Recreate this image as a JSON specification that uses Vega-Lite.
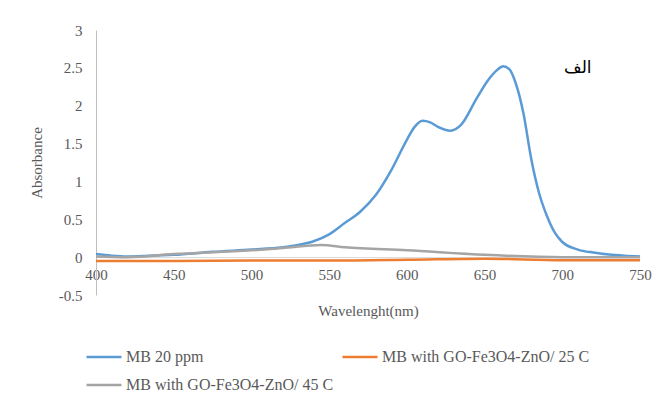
{
  "$schema": "https://vega.github.io/schema/vega-lite/v6.json",
  "width": 544,
  "height": 265,
  "autosize": {"type": "none"},
  "padding": {"left": 96, "top": 30, "right": 24, "bottom": 106},
  "background": "white",
  "config": {"view": {"stroke": null}, "font": "Liberation Serif", "axis": {"labelOverlap": false}},
  "encoding": {
    "x": {
      "field": "wavelength", "type": "quantitative",
      "scale": {"domain": [400, 750], "nice": false, "zero": false},
      "axis": {
        "values": [400, 450, 500, 550, 600, 650, 700, 750],
        "format": "d",
        "offset": -37.86, "ticks": false, "grid": false,
        "domainColor": "#D9D9D9", "domainWidth": 1,
        "labelColor": "#595959", "labelFontSize": 15, "labelPadding": 10,
        "labelFlush": false, "labelOverlap": false,
        "title": "Wavelenght(nm)", "titleFontSize": 15, "titleFontWeight": "normal",
        "titleColor": "#595959", "titlePadding": 21
      }
    },
    "y": {
      "field": "absorbance", "type": "quantitative",
      "scale": {"domain": [-0.5, 3], "nice": false},
      "axis": {
        "values": [-0.5, 0, 0.5, 1, 1.5, 2, 2.5, 3],
        "labelExpr": "replace(format(datum.value, '~g'), '\u2212', '-')",
        "ticks": false, "grid": false, "labelOverlap": false, "labelBound": false, "labelFlush": false,
        "domainColor": "#BFBFBF", "domainWidth": 1,
        "labelColor": "#595959", "labelFontSize": 15, "labelPadding": 14,
        "title": "Absorbance", "titleFontSize": 15, "titleFontWeight": "normal",
        "titleColor": "#595959", "titlePadding": 14
      }
    }
  },
  "layer": [
    {
      "data": {
        "values": [
          {"wavelength": 400, "absorbance": 0.04, "series": "MB 20 ppm"},
          {"wavelength": 410, "absorbance": 0.02, "series": "MB 20 ppm"},
          {"wavelength": 420, "absorbance": 0.01, "series": "MB 20 ppm"},
          {"wavelength": 430, "absorbance": 0.015, "series": "MB 20 ppm"},
          {"wavelength": 450, "absorbance": 0.03, "series": "MB 20 ppm"},
          {"wavelength": 475, "absorbance": 0.07, "series": "MB 20 ppm"},
          {"wavelength": 500, "absorbance": 0.1, "series": "MB 20 ppm"},
          {"wavelength": 520, "absorbance": 0.13, "series": "MB 20 ppm"},
          {"wavelength": 530, "absorbance": 0.16, "series": "MB 20 ppm"},
          {"wavelength": 540, "absorbance": 0.21, "series": "MB 20 ppm"},
          {"wavelength": 550, "absorbance": 0.3, "series": "MB 20 ppm"},
          {"wavelength": 560, "absorbance": 0.45, "series": "MB 20 ppm"},
          {"wavelength": 570, "absorbance": 0.6, "series": "MB 20 ppm"},
          {"wavelength": 580, "absorbance": 0.82, "series": "MB 20 ppm"},
          {"wavelength": 590, "absorbance": 1.15, "series": "MB 20 ppm"},
          {"wavelength": 600, "absorbance": 1.55, "series": "MB 20 ppm"},
          {"wavelength": 605, "absorbance": 1.72, "series": "MB 20 ppm"},
          {"wavelength": 610, "absorbance": 1.8, "series": "MB 20 ppm"},
          {"wavelength": 615, "absorbance": 1.78, "series": "MB 20 ppm"},
          {"wavelength": 620, "absorbance": 1.72, "series": "MB 20 ppm"},
          {"wavelength": 628, "absorbance": 1.67, "series": "MB 20 ppm"},
          {"wavelength": 635, "absorbance": 1.75, "series": "MB 20 ppm"},
          {"wavelength": 645, "absorbance": 2.1, "series": "MB 20 ppm"},
          {"wavelength": 652, "absorbance": 2.33, "series": "MB 20 ppm"},
          {"wavelength": 658, "absorbance": 2.47, "series": "MB 20 ppm"},
          {"wavelength": 662, "absorbance": 2.52, "series": "MB 20 ppm"},
          {"wavelength": 666, "absorbance": 2.48, "series": "MB 20 ppm"},
          {"wavelength": 670, "absorbance": 2.3, "series": "MB 20 ppm"},
          {"wavelength": 675, "absorbance": 1.9, "series": "MB 20 ppm"},
          {"wavelength": 680, "absorbance": 1.3, "series": "MB 20 ppm"},
          {"wavelength": 685, "absorbance": 0.85, "series": "MB 20 ppm"},
          {"wavelength": 690, "absorbance": 0.55, "series": "MB 20 ppm"},
          {"wavelength": 695, "absorbance": 0.33, "series": "MB 20 ppm"},
          {"wavelength": 700, "absorbance": 0.2, "series": "MB 20 ppm"},
          {"wavelength": 710, "absorbance": 0.1, "series": "MB 20 ppm"},
          {"wavelength": 720, "absorbance": 0.06, "series": "MB 20 ppm"},
          {"wavelength": 730, "absorbance": 0.035, "series": "MB 20 ppm"},
          {"wavelength": 740, "absorbance": 0.02, "series": "MB 20 ppm"},
          {"wavelength": 750, "absorbance": 0.01, "series": "MB 20 ppm"},
          {"wavelength": 400, "absorbance": -0.05, "series": "MB with GO-Fe3O4-ZnO/ 25 C"},
          {"wavelength": 450, "absorbance": -0.05, "series": "MB with GO-Fe3O4-ZnO/ 25 C"},
          {"wavelength": 500, "absorbance": -0.045, "series": "MB with GO-Fe3O4-ZnO/ 25 C"},
          {"wavelength": 550, "absorbance": -0.045, "series": "MB with GO-Fe3O4-ZnO/ 25 C"},
          {"wavelength": 600, "absorbance": -0.035, "series": "MB with GO-Fe3O4-ZnO/ 25 C"},
          {"wavelength": 650, "absorbance": -0.02, "series": "MB with GO-Fe3O4-ZnO/ 25 C"},
          {"wavelength": 700, "absorbance": -0.04, "series": "MB with GO-Fe3O4-ZnO/ 25 C"},
          {"wavelength": 750, "absorbance": -0.04, "series": "MB with GO-Fe3O4-ZnO/ 25 C"},
          {"wavelength": 400, "absorbance": 0.01, "series": "MB with GO-Fe3O4-ZnO/ 45 C"},
          {"wavelength": 420, "absorbance": 0.0, "series": "MB with GO-Fe3O4-ZnO/ 45 C"},
          {"wavelength": 450, "absorbance": 0.04, "series": "MB with GO-Fe3O4-ZnO/ 45 C"},
          {"wavelength": 500, "absorbance": 0.09, "series": "MB with GO-Fe3O4-ZnO/ 45 C"},
          {"wavelength": 520, "absorbance": 0.12, "series": "MB with GO-Fe3O4-ZnO/ 45 C"},
          {"wavelength": 545, "absorbance": 0.16, "series": "MB with GO-Fe3O4-ZnO/ 45 C"},
          {"wavelength": 560, "absorbance": 0.13, "series": "MB with GO-Fe3O4-ZnO/ 45 C"},
          {"wavelength": 600, "absorbance": 0.09, "series": "MB with GO-Fe3O4-ZnO/ 45 C"},
          {"wavelength": 650, "absorbance": 0.03, "series": "MB with GO-Fe3O4-ZnO/ 45 C"},
          {"wavelength": 700, "absorbance": 0.0, "series": "MB with GO-Fe3O4-ZnO/ 45 C"},
          {"wavelength": 750, "absorbance": 0.0, "series": "MB with GO-Fe3O4-ZnO/ 45 C"}
        ]
      },
      "mark": {"type": "line", "strokeWidth": 2.5, "interpolate": "monotone"},
      "encoding": {
        "color": {
          "field": "series", "type": "nominal",
          "scale": {
            "domain": ["MB 20 ppm", "MB with GO-Fe3O4-ZnO/ 25 C", "MB with GO-Fe3O4-ZnO/ 45 C"],
            "range": ["#5B9BD5", "#ED7D31", "#A5A5A5"]
          },
          "legend": {
            "orient": "none", "legendX": -11, "legendY": 308,
            "direction": "horizontal", "columns": 2, "title": null,
            "symbolType": "stroke", "symbolSize": 1225, "symbolStrokeWidth": 2.5,
            "labelFontSize": 16, "labelColor": "#595959", "labelOffset": 3,
            "columnPadding": 3, "rowPadding": 1, "labelLimit": 400
          }
        }
      }
    },
    {
      "data": {"values": [{"wavelength": 710, "absorbance": 2.5, "label": "الف"}]},
      "mark": {"type": "text", "font": "DejaVu Sans", "fontSize": 17, "color": "black"},
      "encoding": {
        "text": {"field": "label"}
      }
    }
  ]
}
